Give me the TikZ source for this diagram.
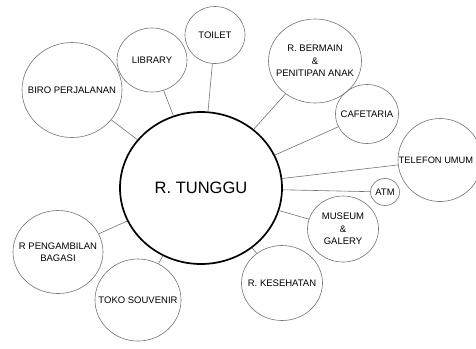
\documentclass[tikz,border=0pt]{standalone}
\usepackage{fontspec}
\setmainfont{Liberation Sans}
\usepackage{tikz}
\usetikzlibrary{shapes.geometric}

\begin{document}
\begin{tikzpicture}[
  x=1bp, y=-1bp,
  hub/.style={draw, ellipse, line width=1.7bp, inner sep=0pt,
              minimum width=162bp, minimum height=152bp,
              font=\fontsize{16.5bp}{18bp}\selectfont},
  room/.style={draw=black!55, line width=0.6bp, ellipse, inner sep=0pt},
  every label/.style={font=\fontsize{9.5bp}{12.5bp}\selectfont, align=center, inner sep=0pt},
  link/.style={draw=black!55, line width=0.6bp}]
\useasboundingbox (0,0) rectangle (476,348);
\clip (0,0) rectangle (476,348);
\node[hub] (tunggu) at (201,188) {R. TUNGGU};
\node[room, minimum width=100bp, minimum height=95bp, label=center:{BIRO PERJALANAN}] (biro) at (72,90) {};
\node[room, minimum width=70bp, minimum height=64bp, label=center:{LIBRARY}] (library) at (152,60) {};
\node[room, minimum width=60bp, minimum height=57bp, label=center:{TOILET}] (toilet) at (215,35) {};
\node[room, minimum width=93bp, minimum height=84bp, label=center:{R. BERMAIN\\\&\\PENITIPAN ANAK}] (bermain) at (315,61) {};
\node[room, minimum width=63bp, minimum height=59bp, label=center:{CAFETARIA}] (cafe) at (367,114) {};
\node[room, minimum width=84bp, minimum height=83bp, label={[xshift=-4bp, font=\fontsize{9.3bp}{12bp}\selectfont]center:{TELEFON UMUM}}] (telefon) at (440,160) {};
\node[room, minimum width=29bp, minimum height=27bp, label=center:{ATM}] (atm) at (385,192) {};
\node[room, minimum width=71bp, minimum height=66bp, label=center:{MUSEUM\\\&\\GALERY}] (museum) at (343,229) {};
\node[room, minimum width=81bp, minimum height=75bp, label=center:{R. KESEHATAN}] (kesehatan) at (282,283) {};
\node[room, minimum width=90bp, minimum height=83bp, label=center:{R PENGAMBILAN\\BAGASI}] (bagasi) at (58,252) {};
\node[room, minimum width=86bp, minimum height=82bp, label=center:{TOKO SOUVENIR}] (toko) at (138,300) {};
\draw[link] (tunggu) -- (biro);
\draw[link] (tunggu) -- (library);
\draw[link] (tunggu) -- (toilet);
\draw[link] (tunggu) -- (bermain);
\draw[link] (tunggu) -- (cafe);
\draw[link] (tunggu) -- (telefon);
\draw[link] (tunggu) -- (atm);
\draw[link] (tunggu) -- (museum);
\draw[link] (tunggu) -- (kesehatan);
\draw[link] (tunggu) -- (bagasi);
\draw[link] (tunggu) -- (toko);
\end{tikzpicture}
\end{document}
